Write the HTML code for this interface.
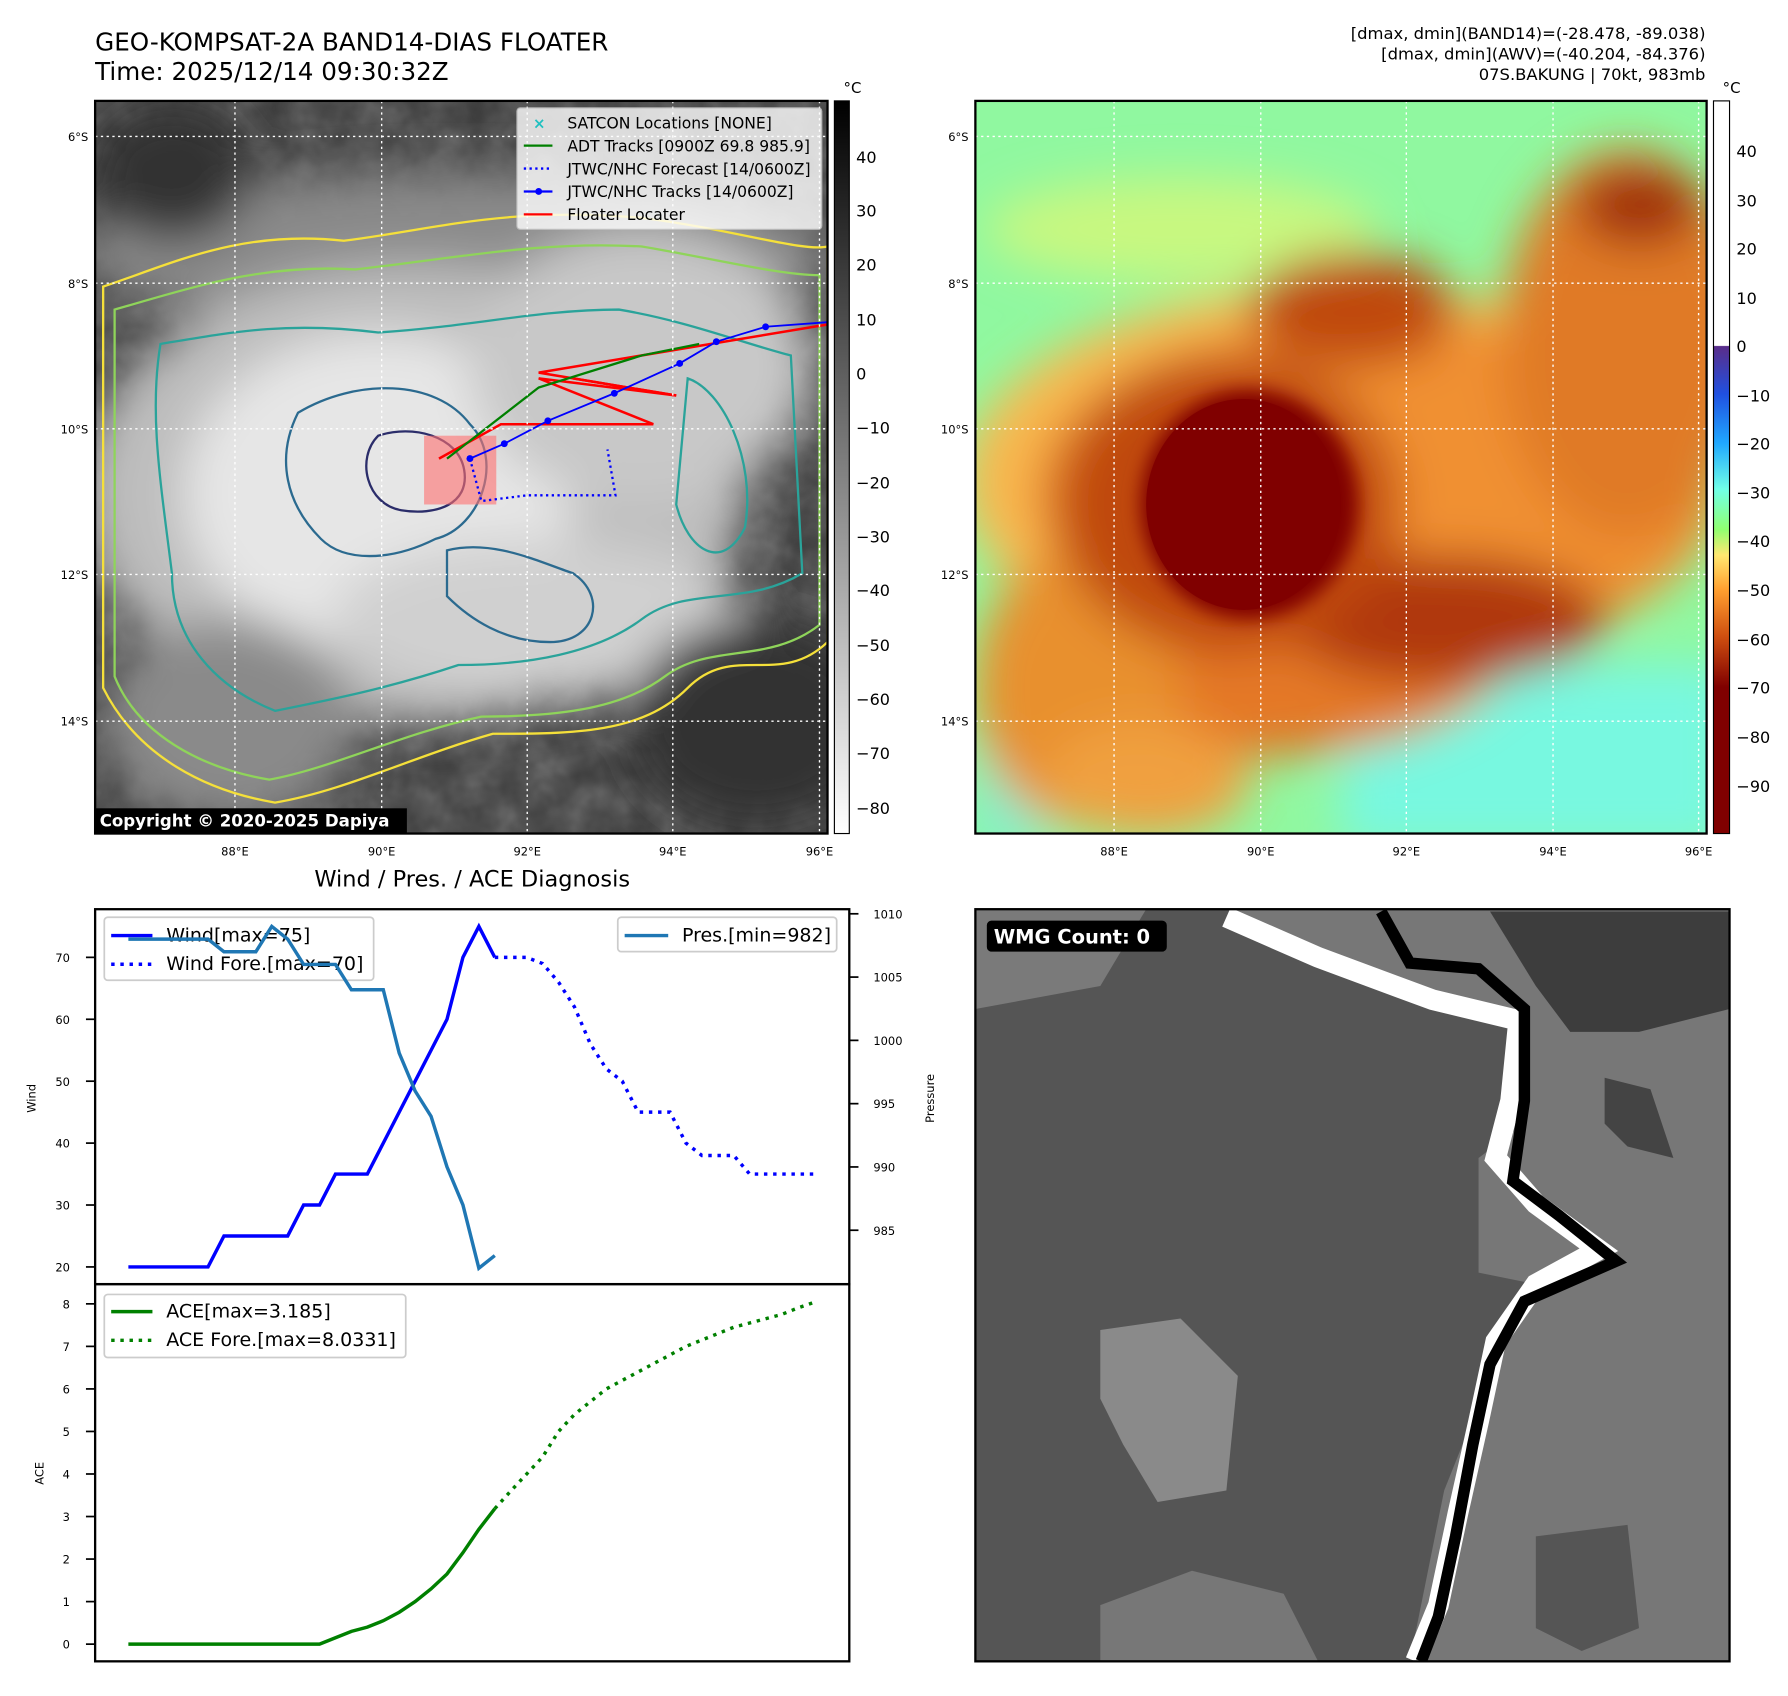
<!DOCTYPE html>
<html><head><meta charset="utf-8">
<style>
html,body{margin:0;padding:0;background:#fff;}
body{width:1788px;height:1690px;overflow:hidden;}
#stage{position:absolute;left:0;top:0;width:1560px;height:1474px;transform-origin:0 0;transform:scale(1.14615,1.14654);font-family:"Liberation Sans","DejaVu Sans",sans-serif;}
svg text{font-family:"DejaVu Sans","Liberation Sans",sans-serif;}
</style></head>
<body>
<div id="stage">
<svg id="fig" width="1560" height="1474" viewBox="0 0 1560 1474" xmlns="http://www.w3.org/2000/svg">
<defs>
  <filter id="blur8" x="-50%" y="-50%" width="200%" height="200%"><feGaussianBlur stdDeviation="8"/></filter>
  <filter id="blur20" x="-50%" y="-50%" width="200%" height="200%"><feGaussianBlur stdDeviation="20"/></filter>
  <filter id="tex" x="0" y="0" width="100%" height="100%"><feTurbulence type="fractalNoise" baseFrequency="0.035" numOctaves="3" seed="4"/><feColorMatrix type="saturate" values="0"/></filter>
  <clipPath id="clipL"><rect x="83" y="88" width="639" height="639"/></clipPath>
  <clipPath id="clipR"><rect x="851" y="88" width="638" height="639"/></clipPath>
  <clipPath id="clipW"><rect x="851" y="793" width="658" height="656"/></clipPath>
  <linearGradient id="cbL" x1="0" y1="0" x2="0" y2="1"><stop offset="0" stop-color="#000"/><stop offset="1" stop-color="#fff"/></linearGradient>
  <linearGradient id="cbR" x1="0" y1="88" x2="0" y2="727" gradientUnits="userSpaceOnUse">
    <stop offset="0" stop-color="#fff"/><stop offset="0.334" stop-color="#fff"/>
    <stop offset="0.335" stop-color="#5a2d8a"/><stop offset="0.40" stop-color="#2050e0"/>
    <stop offset="0.467" stop-color="#20a8ff"/><stop offset="0.53" stop-color="#70ffe8"/>
    <stop offset="0.585" stop-color="#90ff70"/><stop offset="0.62" stop-color="#ffe870"/>
    <stop offset="0.667" stop-color="#ffa030"/><stop offset="0.73" stop-color="#d05010"/>
    <stop offset="0.80" stop-color="#800000"/><stop offset="1" stop-color="#800000"/>
  </linearGradient>
</defs>

<!-- Titles -->
<text x="83" y="44" font-size="21.5" fill="#000">GEO-KOMPSAT-2A BAND14-DIAS FLOATER</text>
<text x="83" y="70" font-size="21.5" fill="#000">Time: 2025/12/14 09:30:32Z</text>
<g font-size="14.3" text-anchor="end" fill="#000">
<text x="1488" y="34">[dmax, dmin](BAND14)=(-28.478, -89.038)</text>
<text x="1488" y="52">[dmax, dmin](AWV)=(-40.204, -84.376)</text>
<text x="1488" y="70">07S.BAKUNG | 70kt, 983mb</text>
</g>

<!-- LEFT MAP -->
<g clip-path="url(#clipL)">
  <rect x="83" y="88" width="639" height="639" fill="#3a3a3a"/>
  <rect x="83" y="88" width="639" height="639" filter="url(#tex)" opacity="0.35"/>
  <g filter="url(#blur20)">
    <ellipse cx="400" cy="220" rx="330" ry="70" fill="#8a8a8a"/>
    <ellipse cx="360" cy="430" rx="290" ry="200" fill="#bdbdbd"/>
    <ellipse cx="330" cy="430" rx="170" ry="140" fill="#e6e6e6"/>
    <ellipse cx="560" cy="320" rx="150" ry="120" fill="#c8c8c8"/>
    <ellipse cx="470" cy="540" rx="180" ry="70" fill="#d0d0d0"/>
    <ellipse cx="200" cy="630" rx="110" ry="90" fill="#8a8a8a"/>
    <ellipse cx="660" cy="630" rx="110" ry="90" fill="#333"/>
    <ellipse cx="150" cy="150" rx="70" ry="60" fill="#303030"/>
  </g>
  <g fill="none" stroke-width="2">
    <path d="M90,250 C150,230 210,200 300,210 C380,200 440,180 560,190 C640,200 700,220 722,215 L722,560 C680,600 640,560 600,600 C560,640 500,640 430,640 C360,660 300,690 240,700 C180,690 120,660 90,600 Z" stroke="#f5e03a"/>
    <path d="M100,270 C170,250 230,230 310,235 C400,225 470,210 560,215 C620,225 680,240 715,240 L715,545 C670,580 620,560 580,590 C540,620 480,625 420,625 C350,640 290,670 235,680 C175,670 120,640 100,590 Z" stroke="#8fd45a"/>
    <path d="M140,300 C200,290 250,280 330,290 C410,285 470,270 540,270 C600,280 650,300 690,310 L700,500 C650,530 600,510 560,540 C520,570 460,580 400,580 C340,600 290,610 240,620 C190,600 150,560 150,500 C140,420 130,360 140,300 Z" stroke="#2aa39a"/>
    <path d="M260,360 C310,330 380,330 410,370 C440,400 420,460 380,470 C340,490 300,490 280,470 C250,440 240,400 260,360 Z" stroke="#2b6a8f"/>
    <path d="M330,380 C360,370 400,380 405,410 C410,440 380,450 350,445 C320,440 310,400 330,380 Z" stroke="#2b2d6a"/>
    <path d="M390,480 C430,470 470,490 500,500 C530,520 520,560 480,560 C440,560 410,540 390,520 Z" stroke="#2b6a8f"/>
    <path d="M600,330 C630,340 660,400 650,460 C630,500 600,480 590,440 Z" stroke="#2aa39a"/>
  </g>
  <rect x="370" y="380" width="63" height="60" fill="#ff7070" opacity="0.6"/>
  <g fill="none" stroke="#ff0000" stroke-width="2.2">
    <polyline points="383,400 437,370 570,370 470,330 590,345 470,325 722,283"/>
    <polyline points="500,330 590,345"/>
  </g>
  <polyline points="390,400 470,338 560,310 610,300" fill="none" stroke="#008000" stroke-width="2"/>
  <polyline points="410,400 420,437 460,432 537,432 530,392" fill="none" stroke="#0000ff" stroke-width="2" stroke-dasharray="2,3"/>
  <polyline points="410,400 440,387 478,367 536,343 593,317 625,298 668,285 722,281" fill="none" stroke="#0000ff" stroke-width="1.6"/>
  <g fill="#0000ff">
    <circle cx="410" cy="400" r="3"/><circle cx="440" cy="387" r="3"/><circle cx="478" cy="367" r="3"/><circle cx="536" cy="343" r="3"/><circle cx="593" cy="317" r="3"/><circle cx="625" cy="298" r="3"/><circle cx="668" cy="285" r="3"/>
  </g>
  <g stroke="#fff" stroke-width="1.2" stroke-dasharray="2,3">
    <line x1="205" y1="88" x2="205" y2="727"/><line x1="333" y1="88" x2="333" y2="727"/><line x1="460" y1="88" x2="460" y2="727"/><line x1="587" y1="88" x2="587" y2="727"/><line x1="715" y1="88" x2="715" y2="727"/>
    <line x1="83" y1="119" x2="722" y2="119"/><line x1="83" y1="247" x2="722" y2="247"/><line x1="83" y1="374" x2="722" y2="374"/><line x1="83" y1="501" x2="722" y2="501"/><line x1="83" y1="629" x2="722" y2="629"/>
  </g>
  <g>
    <rect x="451" y="94" width="266" height="106" rx="3" fill="#fff" opacity="0.8" stroke="#ccc"/>
    <text x="465" y="112" font-size="13" fill="#20c0c0" font-weight="bold">×</text>
    <line x1="457" y1="127" x2="482" y2="127" stroke="#008000" stroke-width="2"/>
    <line x1="457" y1="147" x2="482" y2="147" stroke="#0000ff" stroke-width="2" stroke-dasharray="2,3"/>
    <line x1="457" y1="167" x2="482" y2="167" stroke="#0000ff" stroke-width="2"/><circle cx="470" cy="167" r="3" fill="#0000ff"/>
    <line x1="457" y1="187" x2="482" y2="187" stroke="#ff0000" stroke-width="2"/>
    <g font-size="13.6" fill="#000">
      <text x="495" y="112">SATCON Locations [NONE]</text>
      <text x="495" y="132">ADT Tracks [0900Z 69.8 985.9]</text>
      <text x="495" y="152">JTWC/NHC Forecast [14/0600Z]</text>
      <text x="495" y="172">JTWC/NHC Tracks [14/0600Z]</text>
      <text x="495" y="192">Floater Locater</text>
    </g>
  </g>
  <rect x="83" y="705" width="272" height="22" fill="#000"/>
  <text x="87" y="721" font-size="14.5" font-weight="bold" fill="#fff">Copyright © 2020-2025 Dapiya</text>
</g>
<rect x="83" y="88" width="639" height="639" fill="none" stroke="#000" stroke-width="2"/>

<!-- RIGHT MAP -->
<g clip-path="url(#clipR)">
  <rect x="851" y="88" width="638" height="639" fill="#90f8a0"/>
  <g filter="url(#blur20)">
    <rect x="1170" y="580" width="340" height="160" fill="#78f8e0"/>
    <rect x="851" y="650" width="60" height="90" fill="#80f0d0"/>
    <ellipse cx="1030" cy="200" rx="170" ry="45" fill="#c8f880"/>
    <ellipse cx="1170" cy="420" rx="330" ry="170" fill="#f8b850"/>
    <ellipse cx="1200" cy="430" rx="300" ry="150" fill="#f09030"/>
    <ellipse cx="1420" cy="300" rx="110" ry="170" fill="#e07a28"/>
    <ellipse cx="1100" cy="560" rx="220" ry="100" fill="#e47828"/>
    <ellipse cx="940" cy="600" rx="90" ry="120" fill="#e8902e"/>
    <ellipse cx="1000" cy="680" rx="90" ry="50" fill="#f0a040"/>
    <ellipse cx="1260" cy="540" rx="140" ry="55" fill="#b03808"/>
    <ellipse cx="1180" cy="270" rx="90" ry="50" fill="#c04a10"/>
    <ellipse cx="1070" cy="440" rx="150" ry="130" fill="#c04810"/>
    <ellipse cx="1430" cy="180" rx="55" ry="35" fill="#a03010"/>
  </g>
  <g filter="url(#blur8)">
    <ellipse cx="1090" cy="440" rx="95" ry="100" fill="#800000"/>
  </g>
  <ellipse cx="1085" cy="440" rx="85" ry="92" fill="#800000"/>
  <g stroke="#fff" stroke-width="1.2" stroke-dasharray="2,3">
    <line x1="972" y1="88" x2="972" y2="727"/><line x1="1100" y1="88" x2="1100" y2="727"/><line x1="1227" y1="88" x2="1227" y2="727"/><line x1="1355" y1="88" x2="1355" y2="727"/><line x1="1482" y1="88" x2="1482" y2="727"/>
    <line x1="851" y1="119" x2="1489" y2="119"/><line x1="851" y1="247" x2="1489" y2="247"/><line x1="851" y1="374" x2="1489" y2="374"/><line x1="851" y1="501" x2="1489" y2="501"/><line x1="851" y1="629" x2="1489" y2="629"/>
  </g>
</g>
<rect x="851" y="88" width="638" height="639" fill="none" stroke="#000" stroke-width="2"/>

<g font-size="10" fill="#000" text-anchor="end">
  <text x="77" y="123">6°S</text><text x="77" y="251">8°S</text><text x="77" y="378">10°S</text><text x="77" y="505">12°S</text><text x="77" y="633">14°S</text>
  <text x="845" y="123">6°S</text><text x="845" y="251">8°S</text><text x="845" y="378">10°S</text><text x="845" y="505">12°S</text><text x="845" y="633">14°S</text>
</g>
<g font-size="10" fill="#000" text-anchor="middle">
  <text x="205" y="746">88°E</text><text x="333" y="746">90°E</text><text x="460" y="746">92°E</text><text x="587" y="746">94°E</text><text x="715" y="746">96°E</text>
  <text x="972" y="746">88°E</text><text x="1100" y="746">90°E</text><text x="1227" y="746">92°E</text><text x="1355" y="746">94°E</text><text x="1482" y="746">96°E</text>
</g>

<g>
  <rect x="728" y="88" width="13" height="639" fill="url(#cbL)" stroke="#000" stroke-width="1"/>
  <text x="736" y="81" font-size="13">°C</text>
  <g font-size="14" fill="#000">
    <text x="747" y="142">40</text><text x="747" y="189">30</text><text x="747" y="236">20</text><text x="747" y="284">10</text><text x="747" y="331">0</text>
    <text x="747" y="378">−10</text><text x="747" y="426">−20</text><text x="747" y="473">−30</text><text x="747" y="520">−40</text><text x="747" y="568">−50</text><text x="747" y="615">−60</text><text x="747" y="662">−70</text><text x="747" y="710">−80</text>
  </g>
</g>
<g>
  <rect x="1495" y="88" width="14" height="639" fill="url(#cbR)" stroke="#000" stroke-width="1"/>
  <text x="1503" y="81" font-size="13">°C</text>
  <g font-size="14" fill="#000">
    <text x="1515" y="137">40</text><text x="1515" y="180">30</text><text x="1515" y="222">20</text><text x="1515" y="265">10</text><text x="1515" y="307">0</text>
    <text x="1515" y="350">−10</text><text x="1515" y="392">−20</text><text x="1515" y="435">−30</text><text x="1515" y="477">−40</text><text x="1515" y="520">−50</text><text x="1515" y="563">−60</text><text x="1515" y="605">−70</text><text x="1515" y="648">−80</text><text x="1515" y="691">−90</text>
  </g>
</g>

<!-- WMG panel -->
<g clip-path="url(#clipW)">
  <rect x="851" y="793" width="658" height="656" fill="#555"/>
  <polygon points="851,793 1070,793 1150,830 1270,880 1330,890 1330,980 1290,1010 1290,1110 1340,1120 1300,1200 1260,1300 1230,1449 1509,1449 1509,793" fill="#777"/>
  <polygon points="1300,795 1509,795 1509,880 1430,900 1370,900 1340,860" fill="#3d3d3d"/>
  <polygon points="1400,940 1440,950 1460,1010 1420,1000 1400,980" fill="#444"/>
  <polygon points="851,793 1000,793 960,860 851,880" fill="#7a7a7a"/>
  <polygon points="960,1160 1030,1150 1080,1200 1070,1300 1010,1310 980,1260 960,1220" fill="#8a8a8a"/>
  <polygon points="1340,1340 1420,1330 1430,1420 1380,1440 1340,1420" fill="#555"/>
  <polygon points="960,1400 1040,1370 1120,1390 1150,1449 960,1449" fill="#777"/>
  <polyline points="1070,800 1150,835 1250,872 1325,890 1318,960 1305,1010 1340,1050 1395,1090 1340,1120 1305,1170 1290,1240 1272,1320 1255,1400 1235,1449" fill="none" stroke="#fff" stroke-width="18"/>
  <polyline points="1205,795 1230,840 1290,845 1330,880 1330,960 1320,1030 1360,1060 1410,1100 1330,1135 1300,1190 1285,1260 1270,1340 1255,1410 1240,1449" fill="none" stroke="#000" stroke-width="10"/>
  <rect x="861" y="803" width="157" height="27" rx="4" fill="#000"/>
  <text x="867" y="823" font-size="17" font-weight="bold" fill="#fff">WMG Count: 0</text>
</g>
<rect x="851" y="793" width="658" height="656" fill="none" stroke="#000" stroke-width="2"/>

<!-- Wind / Pres / ACE -->
<text x="412" y="773" font-size="19.6" text-anchor="middle" fill="#000">Wind / Pres. / ACE Diagnosis</text>
<g>
  <rect x="91" y="800" width="235" height="55" rx="3" fill="#fff" fill-opacity="0.8" stroke="#ccc" stroke-width="1.5"/>
  <line x1="97" y1="816" x2="133" y2="816" stroke="#0000ff" stroke-width="3"/>
  <line x1="97" y1="841" x2="133" y2="841" stroke="#0000ff" stroke-width="3" stroke-dasharray="3,5"/>
  <text x="145" y="821" font-size="16.6">Wind[max=75]</text>
  <text x="145" y="846" font-size="16.6">Wind Fore.[max=70]</text>
</g>
<g id="lines"></g>
<rect x="83" y="793" width="658" height="327" fill="none" stroke="#000" stroke-width="2"/>
<rect x="83" y="1120" width="658" height="329" fill="none" stroke="#000" stroke-width="2"/>
<g id="ticks" font-size="10" fill="#000"></g>
<text transform="translate(31,958) rotate(-90)" font-size="10" text-anchor="middle">Wind</text>
<text transform="translate(815,958) rotate(-90)" font-size="10" text-anchor="middle">Pressure</text>
<text transform="translate(38,1285) rotate(-90)" font-size="10" text-anchor="middle">ACE</text>

<g>
  <rect x="539" y="800" width="191" height="30" rx="3" fill="#fff" fill-opacity="0.8" stroke="#ccc" stroke-width="1.5"/>
  <line x1="545" y1="816" x2="583" y2="816" stroke="#1f77b4" stroke-width="3"/>
  <text x="595" y="821" font-size="16.6">Pres.[min=982]</text>
</g>
<g>
  <rect x="91" y="1129" width="263" height="55" rx="3" fill="#fff" fill-opacity="0.8" stroke="#ccc" stroke-width="1.5"/>
  <line x1="97" y1="1144" x2="133" y2="1144" stroke="#008000" stroke-width="3"/>
  <line x1="97" y1="1169" x2="133" y2="1169" stroke="#008000" stroke-width="3" stroke-dasharray="3,5"/>
  <text x="145" y="1149" font-size="16.6">ACE[max=3.185]</text>
  <text x="145" y="1174" font-size="16.6">ACE Fore.[max=8.0331]</text>
</g>
</svg>
</div>
<script>
const wind = [20,20,20,20,20,20,25,25,25,25,25,30,30,35,35,35,40,45,50,55,60,70,75,70];
const windFore = [70,70,70,69,66,62,56,52,50,45,45,45,40,38,38,38,35,35,35,35,35];
const pres = [1008,1008,1008,1008,1008,1008,1007,1007,1007,1009,1008,1006,1006,1006,1004,1004,1004,999,996,994,990,987,982,983];
const ace = [0,0,0,0,0,0,0,0,0,0,0,0,0,0.15,0.3,0.4,0.55,0.75,1.0,1.3,1.65,2.15,2.7,3.185];
const aceFore = [3.185,3.6,4.0,4.4,5.0,5.4,5.7,6.0,6.2,6.4,6.6,6.8,7.0,7.15,7.3,7.45,7.55,7.65,7.75,7.9,8.03];
const windTicks = [20,30,40,50,60,70];
const presTicks = [985,990,995,1000,1005,1010];
const aceTicks = [0,1,2,3,4,5,6,7,8];
const foreStart = 23;

const NS = 'http://www.w3.org/2000/svg';
const xs = i => 112 + i * 13.9;
const yWind = v => 1105 - (v - 20) * 5.4;
const yPres = v => 797 + (1010 - v) * 11.04;
const yAce = v => 1434 - v * 37.1;
const lines = document.getElementById('lines');
const ticks = document.getElementById('ticks');

function poly(vals, offset, yf, color, w, dash, name) {
  const p = document.createElementNS(NS, 'polyline');
  p.setAttribute('points', vals.map((v, i) => xs(i + offset) + ',' + yf(v)).join(' '));
  p.setAttribute('fill', 'none');
  p.setAttribute('stroke', color);
  p.setAttribute('stroke-width', w);
  if (dash) p.setAttribute('stroke-dasharray', dash);
  
  
  lines.appendChild(p);
}
poly(wind, 0, yWind, '#0000ff', 3, null, 'wind-line');
poly(windFore, foreStart, yWind, '#0000ff', 3, '3,5', 'wind-forecast-line');
poly(pres, 0, yPres, '#1f77b4', 3, null, 'pressure-line');
poly(ace, 0, yAce, '#008000', 3, null, 'ace-line');
poly(aceFore, foreStart, yAce, '#008000', 3, '3,5', 'ace-forecast-line');

function tick(x1, x2, y, label, tx, anchor, name) {
  const l = document.createElementNS(NS, 'line');
  l.setAttribute('x1', x1); l.setAttribute('x2', x2);
  l.setAttribute('y1', y); l.setAttribute('y2', y);
  l.setAttribute('stroke', '#000'); l.setAttribute('stroke-width', 1.5);
  ticks.appendChild(l);
  const t = document.createElementNS(NS, 'text');
  t.setAttribute('x', tx); t.setAttribute('y', y + 4);
  t.setAttribute('text-anchor', anchor);
  t.textContent = label;
  
  
  ticks.appendChild(t);
}
windTicks.forEach(v => tick(75, 83, yWind(v), v, 61, 'end', 'wind-tick-label'));
presTicks.forEach(v => tick(741, 749, yPres(v), v, 762, 'start', 'pressure-tick-label'));
aceTicks.forEach(v => tick(75, 83, yAce(v), v, 61, 'end', 'ace-tick-label'));
</script>
</body></html>
